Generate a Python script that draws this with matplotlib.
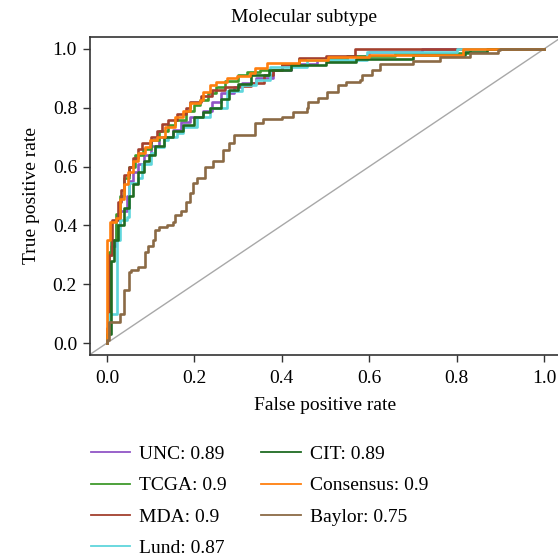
import matplotlib
matplotlib.use('Agg')
import matplotlib.pyplot as plt
from matplotlib.lines import Line2D

plt.rcParams['font.family'] = ['Liberation Serif', 'DejaVu Serif']

# ROC curves (fpr, tpr corner points)
unc_fpr = [0, 0, 0.003, 0.01, 0.02, 0.03, 0.045, 0.05, 0.06, 0.07, 0.085, 0.10, 0.12, 0.15, 0.17,
           0.19, 0.22, 0.24, 0.26, 0.29, 0.31, 0.34, 0.38, 0.42, 0.48, 0.55, 0.60, 0.72, 1.0]
unc_tpr = [0, 0.03, 0.30, 0.33, 0.40, 0.45, 0.50, 0.55, 0.58, 0.61, 0.64, 0.67, 0.70, 0.725, 0.75,
           0.77, 0.79, 0.82, 0.85, 0.87, 0.885, 0.90, 0.93, 0.95, 0.965, 0.975, 0.99, 1.0, 1.0]

tcga_fpr = [0, 0, 0.005, 0.01, 0.02, 0.03, 0.04, 0.05, 0.065, 0.083, 0.10, 0.12, 0.14, 0.156, 0.18,
            0.20, 0.213, 0.23, 0.25, 0.27, 0.30, 0.32, 0.35, 0.40, 0.44, 0.55, 0.66, 0.83, 1.0]
tcga_tpr = [0, 0.03, 0.31, 0.35, 0.44, 0.50, 0.56, 0.60, 0.64, 0.66, 0.69, 0.72, 0.74, 0.76, 0.79,
            0.81, 0.826, 0.85, 0.87, 0.89, 0.91, 0.923, 0.93, 0.95, 0.965, 0.975, 0.985, 1.0, 1.0]

mda_fpr = [0, 0, 0.005, 0.012, 0.025, 0.032, 0.04, 0.05, 0.06, 0.07, 0.08, 0.10, 0.115, 0.125, 0.14,
           0.16, 0.18, 0.19, 0.215, 0.24, 0.27, 0.30, 0.33, 0.36, 0.38, 0.40, 0.44, 0.50, 0.567, 1.0]
mda_tpr = [0, 0.05, 0.30, 0.42, 0.48, 0.52, 0.57, 0.60, 0.63, 0.66, 0.68, 0.70, 0.72, 0.745, 0.76,
           0.78, 0.80, 0.82, 0.84, 0.86, 0.87, 0.875, 0.885, 0.91, 0.93, 0.945, 0.97, 0.975, 1.0, 1.0]

lund_fpr = [0, 0, 0.005, 0.022, 0.03, 0.045, 0.05, 0.07, 0.08, 0.10, 0.11, 0.13, 0.14, 0.16, 0.175,
            0.205, 0.236, 0.274, 0.31, 0.34, 0.373, 0.457, 0.595, 0.80, 1.0]
lund_tpr = [0, 0.03, 0.10, 0.35, 0.42, 0.43, 0.545, 0.56, 0.61, 0.645, 0.665, 0.69, 0.70, 0.714, 0.735,
            0.77, 0.80, 0.857, 0.877, 0.895, 0.94, 0.962, 0.99, 1.0, 1.0]

cit_fpr = [0, 0, 0.01, 0.015, 0.025, 0.04, 0.05, 0.06, 0.07, 0.085, 0.095, 0.11, 0.13, 0.15, 0.175,
           0.20, 0.22, 0.236, 0.26, 0.28, 0.30, 0.33, 0.37, 0.42, 0.50, 0.57, 0.70, 0.82, 0.87, 1.0]
cit_tpr = [0, 0.03, 0.28, 0.35, 0.40, 0.46, 0.50, 0.54, 0.58, 0.62, 0.64, 0.67, 0.70, 0.72, 0.74,
           0.77, 0.785, 0.80, 0.83, 0.86, 0.88, 0.91, 0.93, 0.945, 0.955, 0.965, 0.98, 0.99, 1.0, 1.0]

cons_fpr = [0, 0, 0.007, 0.02, 0.03, 0.04, 0.048, 0.06, 0.07, 0.087, 0.098, 0.114, 0.133, 0.156, 0.175,
            0.19, 0.213, 0.22, 0.236, 0.25, 0.274, 0.297, 0.327, 0.339, 0.366, 0.44, 0.506, 0.60, 0.815, 1.0]
cons_tpr = [0, 0.35, 0.41, 0.425, 0.49, 0.54, 0.58, 0.62, 0.645, 0.667, 0.69, 0.70, 0.735, 0.77, 0.79,
            0.815, 0.826, 0.855, 0.877, 0.888, 0.90, 0.908, 0.918, 0.935, 0.952, 0.962, 0.972, 0.98, 1.0, 1.0]

baylor_fpr = [0, 0, 0.005, 0.03, 0.04, 0.05, 0.056, 0.07, 0.087, 0.094, 0.105, 0.11, 0.12, 0.137, 0.15,
              0.156, 0.17, 0.18, 0.19, 0.197, 0.205, 0.224, 0.243, 0.266, 0.28, 0.29, 0.339, 0.357, 0.40,
              0.426, 0.457, 0.46, 0.483, 0.503, 0.529, 0.548, 0.579, 0.583, 0.606, 0.625, 0.70, 0.762,
              0.83, 0.895, 0.90, 1.0]
baylor_tpr = [0, 0.01, 0.07, 0.10, 0.18, 0.24, 0.25, 0.26, 0.31, 0.33, 0.35, 0.385, 0.395, 0.40, 0.41,
              0.435, 0.45, 0.48, 0.51, 0.545, 0.56, 0.60, 0.62, 0.656, 0.68, 0.707, 0.748, 0.762, 0.77,
              0.786, 0.80, 0.82, 0.833, 0.855, 0.877, 0.888, 0.895, 0.91, 0.93, 0.95, 0.96, 0.974,
              0.986, 0.997, 1.0, 1.0]

labels = ['UNC: 0.89', 'TCGA: 0.9', 'MDA: 0.9', 'Lund: 0.87', 'CIT: 0.89', 'Consensus: 0.9', 'Baylor: 0.75']
colors = ['#9155c6', '#3f9a2c', '#a3402e', '#5fd6dc', '#1f6b22', '#ff7f0e', '#8b6a45']
curves = [(unc_fpr, unc_tpr), (tcga_fpr, tcga_tpr), (mda_fpr, mda_tpr), (lund_fpr, lund_tpr),
          (cit_fpr, cit_tpr), (cons_fpr, cons_tpr), (baylor_fpr, baylor_tpr)]

fig = plt.figure(figsize=(5.58, 5.56), dpi=100)
ax = fig.add_axes([0.1604, 0.3619, 0.8459, 0.5712])

ax.axline((0, 0), slope=1, color='#a8a8a8', lw=1.0, zorder=1)
for (fx, ty), c in zip(curves, colors):
    ax.plot(fx, ty, drawstyle='steps-post', color=c, lw=1.9, zorder=2)

ax.set_xlim(-0.04, 1.04)
ax.set_ylim(-0.04, 1.04)
ax.set_xticks([0, 0.2, 0.4, 0.6, 0.8, 1.0])
ax.set_yticks([0, 0.2, 0.4, 0.6, 0.8, 1.0])
ax.set_xticklabels(['0.0', '0.2', '0.4', '0.6', '0.8', '1.0'])
ax.set_yticklabels(['0.0', '0.2', '0.4', '0.6', '0.8', '1.0'])
ax.tick_params(direction='out', length=5, width=1, labelsize=14, color='#333333')
ax.tick_params(axis='x', pad=6)
ax.tick_params(axis='y', pad=4)
for s in ax.spines.values():
    s.set_color('#333333')
    s.set_linewidth(1.2)
ax.set_xlabel('False positive rate', fontsize=14, labelpad=7)
ax.set_ylabel('True positive rate', fontsize=14, labelpad=9)

fig.text(304 / 558, 1 - 18 / 556, 'Molecular subtype', ha='center', va='center', fontsize=14)

handles = [Line2D([], [], color=c, lw=1.3) for c in colors]
fig.legend(handles, labels, ncol=2, loc='upper left', bbox_to_anchor=(73 / 558, 1 - 428 / 556),
           frameon=False, fontsize=14, handlelength=2.05, handletextpad=0.46,
           columnspacing=1.75, labelspacing=0.7)

fig.savefig('out.png', dpi=100)
